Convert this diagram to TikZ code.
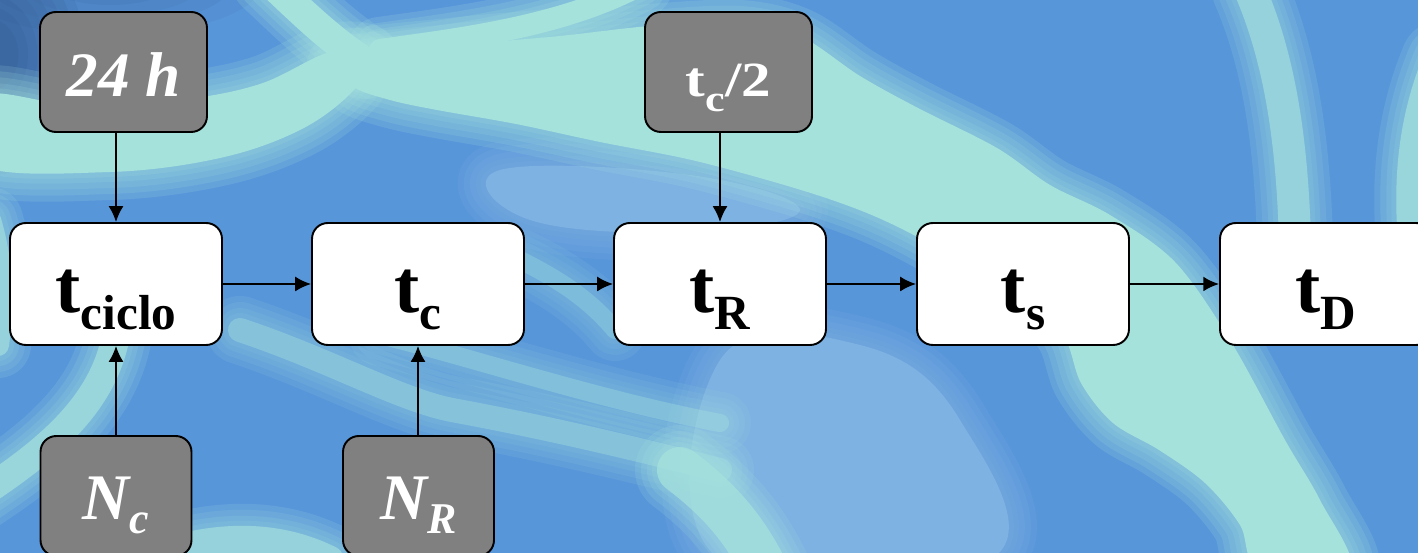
\documentclass[tikz,border=0pt]{standalone}
\usepackage{fontspec}
\setmainfont{Liberation Serif}
\usetikzlibrary{arrows.meta}

\definecolor{seadeep}{HTML}{2C4C7E}
\definecolor{seamid}{HTML}{5896DA}
\definecolor{sealight}{HTML}{7EB2E2}
\definecolor{foam}{HTML}{A5E2DC}
\definecolor{boxgray}{HTML}{808080}

% a filled patch of colour with a soft, fading fringe
\newcommand\foampatch[2][foam]{%
  \foreach \w in {56,44,32,20,10}{%
    \draw[#1, opacity=0.16, line width=\w*0.02cm, line join=round] #2;}
  \fill[#1] #2;}
% a streak of colour of a given width and strength with a soft fringe
\newcommand\foamline[4][foam]{%
  \begin{scope}[transparency group, opacity=#3]
  \foreach \w in {44,32,20,10}{%
    \draw[#1, opacity=0.18, line width=(#2+\w)*0.02cm, line cap=round] #4;}
  \draw[#1, line width=#2*0.02cm, line cap=round] #4;
  \end{scope}}

\newcommand\lowsub[2]{\raisebox{-#1}{#2}}

\tikzset{
  flowbox/.style={draw=black, line width=1.1pt, rounded corners=9pt, fill=white,
    minimum width=4.24cm, minimum height=2.44cm, inner sep=0pt,
    text height=32pt, text depth=0pt,
    font=\fontsize{43pt}{43pt}\selectfont\bfseries},
  inbox/.style={draw=black, line width=1.1pt, rounded corners=9pt, fill=boxgray,
    text=white, minimum height=2.4cm, inner sep=0pt, text depth=0pt},
  link/.style={draw=black, line width=1.1pt, -{Latex[length=9pt,width=8.5pt]}}
}

\begin{document}
\begin{tikzpicture}[x=0.02cm, y=-0.02cm]
\useasboundingbox (0,0) rectangle (1418,553);
\begin{scope}
\clip (0,0) rectangle (1418,553);

% water: blue ground, a dark corner, lighter pools and foam currents
\fill[seamid] (0,0) rectangle (1418,553);
\foampatch[sealight]{plot[smooth cycle, tension=0.7] coordinates {(720,360) (860,345) (960,420) (990,560) (720,560)}}
\foampatch[sealight]{plot[smooth cycle, tension=0.7] coordinates {(500,170) (690,175) (800,210) (690,232) (530,220)}}
\foreach \s in {1,0.9,0.8,0.7,0.6,0.5,0.4,0.3}{
  \fill[seadeep, opacity=0.1] (-10,55) ellipse ({95*\s} and {120*\s});}
\foreach \s in {1,0.8,0.6,0.4}{
  \fill[seadeep, opacity=0.07] (110,-15) ellipse ({150*\s} and {50*\s});}

% main current: left arm, upper arm and the broad stream
\foampatch{plot[smooth cycle, tension=0.6] coordinates {
  (-20,96) (80,106) (180,100) (260,84) (330,52) (372,56) (352,92)
  (300,130) (220,158) (110,172) (-20,165)}}
\foamline{30}{1}{(268,-20) .. controls (300,10) and (330,40) .. (365,62)}
\foampatch{plot[smooth cycle, tension=0.55] coordinates {
  (340,60) (450,46) (560,36) (650,26) (740,22) (800,36) (860,76)
  (918,108) (997,148) (1050,185) (1110,215) (1175,262) (1230,340) (1285,440)
  (1320,500) (1350,570) (1260,570) (1240,525) (1205,483) (1159,450) (1113,423)
  (1081,383) (1060,330) (1000,285) (900,228) (820,196) (700,162) (600,142)
  (516,124) (437,110) (390,100) (352,86)}}
\foamline{22}{1}{(380,50) .. controls (450,40) and (560,28) .. (640,-15)}
% side currents
\foamline{32}{0.8}{(1250,-10) .. controls (1280,60) and (1292,140) .. (1295,240)}
\foamline{34}{0.85}{(1440,60) .. controls (1415,120) and (1410,180) .. (1415,240)}
\foamline{22}{0.8}{(-10,220) .. controls (2,260) and (4,300) .. (-2,345)}
\foamline{28}{0.85}{(-20,495) .. controls (40,455) and (100,410) .. (115,340)}
\foamline{24}{0.6}{(240,330) .. controls (330,360) and (400,400) .. (452,410) .. controls (560,430) and (640,450) .. (720,470)}
\foamline{18}{0.55}{(380,335) .. controls (480,360) and (600,400) .. (720,423)}
\foamline{28}{0.8}{(130,565) .. controls (200,535) and (270,530) .. (330,560)}
\foamline{46}{0.85}{(680,470) .. controls (720,500) and (745,530) .. (765,570)}
\foamline{18}{0.5}{(520,260) .. controls (560,280) and (590,300) .. (615,330)}

% main chain
\node[flowbox] (tciclo) at (116,284) {t\lowsub{10pt}{\fontsize{28pt}{28pt}\selectfont ciclo}};
\node[flowbox] (tc)     at (418,284) {t\lowsub{10pt}{\fontsize{28pt}{28pt}\selectfont c}};
\node[flowbox] (tR)     at (720,284) {t\lowsub{10pt}{\fontsize{28pt}{28pt}\selectfont R}};
\node[flowbox] (ts)     at (1023,284) {t\lowsub{10pt}{\fontsize{28pt}{28pt}\selectfont s}};
\node[flowbox] (tD)     at (1326,284) {t\lowsub{10pt}{\fontsize{28pt}{28pt}\selectfont D}};

% inputs
\node[inbox, minimum width=3.34cm, text height=28.4pt,
  font=\fontsize{36pt}{36pt}\selectfont\bfseries\itshape]
  (day) at (123.5,72) {24 h};
\node[inbox, minimum width=3.34cm, text height=28.4pt,
  font=\fontsize{28pt}{28pt}\selectfont\bfseries]
  (half) at (728.5,72) {\scalebox{1.2}[1]{t\lowsub{8.5pt}{\fontsize{21pt}{21pt}\selectfont c}/2}};
\node[inbox, minimum width=3.02cm, text height=27.3pt,
  font=\fontsize{37pt}{37pt}\selectfont\bfseries\itshape]
  (Nc) at (116,496) {N\lowsub{7.5pt}{\fontsize{25pt}{25pt}\selectfont c}};
\node[inbox, minimum width=3.02cm, text height=27.3pt,
  font=\fontsize{37pt}{37pt}\selectfont\bfseries\itshape]
  (NR) at (418.5,496) {N\lowsub{7.5pt}{\fontsize{25pt}{25pt}\selectfont R}};

% connectors
\draw[link] (tciclo) -- (tc);
\draw[link] (tc) -- (tR);
\draw[link] (tR) -- (ts);
\draw[link] (ts) -- (tD);
\draw[link] (tciclo.north |- day.south) -- (tciclo.north);
\draw[link] (tR.north |- half.south) -- (tR.north);
\draw[link] (tciclo.south |- Nc.north) -- (tciclo.south);
\draw[link] (tc.south |- NR.north) -- (tc.south);
\end{scope}
\end{tikzpicture}
\end{document}
